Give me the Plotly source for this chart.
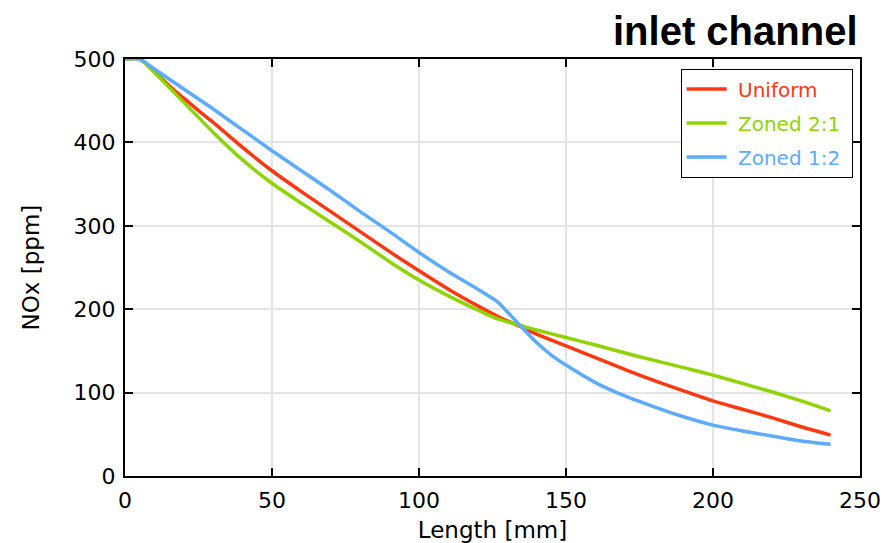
import plotly.graph_objects as go

x_uniform = [0, 5, 10, 15, 20, 25, 30, 40, 50, 60, 70, 80, 90, 100, 110, 120, 127, 134, 140, 150, 160, 175, 190, 200, 210, 220, 230, 240]
y_uniform = [500, 500, 485, 468, 453, 438, 424, 394, 366, 341, 317, 293, 269, 246, 224, 204, 191, 180, 170, 156, 142, 121, 102, 90, 80, 70, 59, 49]

x_zoned21 = [0, 5, 10, 15, 20, 25, 30, 40, 50, 60, 70, 80, 90, 100, 110, 120, 127, 134, 140, 150, 160, 175, 190, 200, 210, 220, 230, 240]
y_zoned21 = [500, 500, 484, 466, 448, 430, 412, 379, 351, 327, 304, 281, 257, 235, 216, 199, 188, 181, 175, 166, 157, 143, 130, 121, 111, 101, 90, 78]

x_zoned12 = [0, 5, 10, 20, 30, 40, 50, 60, 70, 80, 90, 100, 110, 120, 127, 130, 134, 140, 145, 150, 160, 170, 180, 190, 200, 210, 220, 230, 240]
y_zoned12 = [500, 500, 488, 464, 440, 415, 390, 366, 342, 317, 293, 268, 245, 224, 208, 197, 182, 160, 145, 133, 112, 96, 83, 71, 61, 54, 48, 42, 38]

series_names = ["Uniform", "Zoned 2:1", "Zoned 1:2"]
series_colors = ["#ff3811", "#8ed400", "#5cabff"]
x_ticks = [0, 50, 100, 150, 200, 250]
y_ticks = [0, 100, 200, 300, 400, 500]

fig = go.Figure()
for name, xs, ys, col in zip(series_names,
                             [x_uniform, x_zoned21, x_zoned12],
                             [y_uniform, y_zoned21, y_zoned12],
                             series_colors):
    fig.add_trace(go.Scatter(
        x=xs, y=ys, mode="lines", legendgroup=name,
        name=f"\u00a0<span style='color:{col}'>{name}</span>\u00a0",
        line=dict(color=col, width=3.5, shape="spline", smoothing=0.6),
    ))

axis_common = dict(
    showline=True, linecolor="black", linewidth=2, mirror="ticks",
    ticks="inside", ticklen=8, tickwidth=2, tickcolor="black",
    showgrid=True, gridcolor="#e4e4e4", gridwidth=1.5,
    zeroline=False, automargin=False,
    tickfont=dict(family="DejaVu Sans", size=22, color="black"),
)

fig.update_layout(
    width=885, height=543,
    margin=dict(l=125, r=25, t=59, b=67),
    paper_bgcolor="white", plot_bgcolor="white",
    xaxis=dict(range=[0, 250], tickvals=x_ticks, ticklabelstandoff=4,
               title=dict(text="Length [mm]",
                          font=dict(family="DejaVu Sans", size=23, color="black")),
               **axis_common),
    yaxis=dict(range=[0, 500], tickvals=y_ticks, ticklabelstandoff=3,
               **axis_common),
    legend=dict(x=0.99, y=0.977, xanchor="right", yanchor="top",
                bgcolor="white", bordercolor="black", borderwidth=1,
                font=dict(family="DejaVu Sans", size=20),
                tracegroupgap=5, itemwidth=40),
    annotations=[
        dict(text="<b>inlet channel</b>", xref="paper", yref="paper",
             x=1.0, y=1.0, xanchor="right", yanchor="bottom", yshift=4, xshift=0,
             showarrow=False,
             font=dict(family="Liberation Sans", size=40, color="black")),
        dict(text="NOx [ppm]", xref="paper", yref="paper",
             x=(30 - 125) / 735, y=0.5, xanchor="center", yanchor="middle",
             textangle=-90, showarrow=False,
             font=dict(family="DejaVu Sans", size=23, color="black")),
    ],
)

fig.write_html("out.html")
